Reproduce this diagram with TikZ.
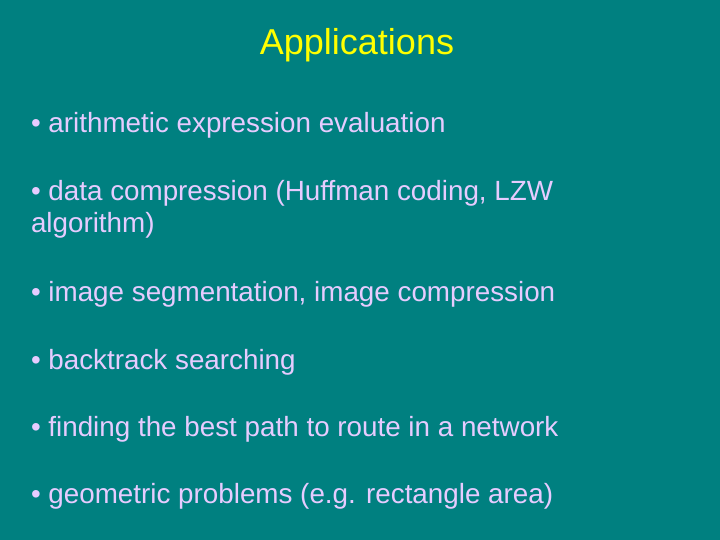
\documentclass[tikz,border=0pt]{standalone}
\usepackage{fontspec}
\setmainfont{Liberation Sans}
\definecolor{slidebg}{RGB}{0,128,128}
\definecolor{titlecol}{RGB}{255,255,0}
\definecolor{itemcol}{RGB}{230,204,255}
\begin{document}
\begin{tikzpicture}[x=1pt,y=-1pt,
  item/.style={inner sep=0, outer sep=0, itemcol, anchor=base west, font=\fontsize{27.8}{32}\selectfont, align=left}]
\useasboundingbox (0,0) rectangle (720,540);
\fill [slidebg] (0,0) rectangle (720,540);
\node[inner sep=0, titlecol, anchor=base, font=\fontsize{36}{36}\selectfont] (title) at (357,55) {Applications};
\node[item] (arith) at (31,133) {\textbullet\ arithmetic expression evaluation};
\node[item] (compr) at (31,233) {\textbullet\ data compression (Huffman coding, LZW\\algorithm)};
\node[item] (image) at (31,301) {\textbullet\ image segmentation, image compression};
\node[item] (back) at (31,369) {\textbullet\ backtrack searching};
\node[item] (route) at (31,436) {\textbullet\ finding the best path to route in a network};
\node[item] (geom) at (31,503) {\textbullet\ geometric problems (e.g. rectangle area)};
\end{tikzpicture}
\end{document}
